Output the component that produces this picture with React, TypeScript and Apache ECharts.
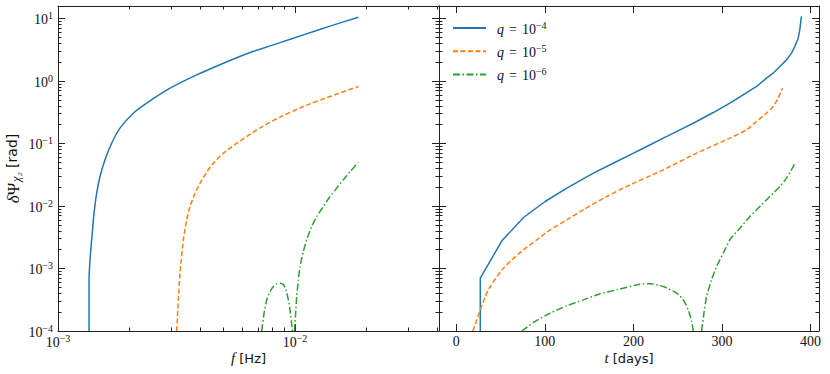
import React, { useEffect, useRef } from 'react';
import * as echarts from 'echarts';

// ---------- tick values ----------
const leftXMajor = [0.001, 0.01];
const leftXMinor = [0.002, 0.003, 0.004, 0.005, 0.006, 0.007, 0.008, 0.009, 0.02, 0.03, 0.04];
const yMajor = [1e-4, 1e-3, 1e-2, 1e-1, 1, 10];
const yMinor = [
  2e-4, 3e-4, 4e-4, 5e-4, 6e-4, 7e-4, 8e-4, 9e-4,
  2e-3, 3e-3, 4e-3, 5e-3, 6e-3, 7e-3, 8e-3, 9e-3,
  2e-2, 3e-2, 4e-2, 5e-2, 6e-2, 7e-2, 8e-2, 9e-2,
  0.2, 0.3, 0.4, 0.5, 0.6, 0.7, 0.8, 0.9,
  2, 3, 4, 5, 6, 7, 8, 9,
];
const rightXMajor = [0, 100, 200, 300, 400];

// ---------- left panel (frequency) ----------
const fBlueL = [1.352e-3, 1.352e-3, 1.365e-3, 1.387e-3, 1.419e-3, 1.456e-3, 1.504e-3, 1.579e-3, 1.684e-3, 1.826e-3, 2.078e-3, 2.367e-3, 2.97e-3, 3.847e-3, 5.317e-3, 6.46e-3, 7.116e-3, 8.65e-3, 1.084e-2, 1.405e-2, 1.849e-2];
const psiBlueL = [1e-4, 6.59e-4, 1.38e-3, 2.88e-3, 7.67e-3, 0.016, 0.0296, 0.0548, 0.101, 0.176, 0.305, 0.442, 0.767, 1.256, 2.13, 2.86, 3.23, 4.11, 5.47, 7.55, 10.5];

const fOrangeL = [3.168e-3, 3.219e-3, 3.272e-3, 3.379e-3, 3.491e-3, 3.606e-3, 3.786e-3, 3.975e-3, 4.241e-3, 4.524e-3, 4.985e-3, 5.675e-3, 6.253e-3, 7.116e-3, 8.65e-3, 1.084e-2, 1.405e-2, 1.85e-2];
const psiOrangeL = [1e-4, 3.15e-4, 8.4e-4, 2.88e-3, 6.0e-3, 9.8e-3, 0.016, 0.0232, 0.0348, 0.0484, 0.07, 0.101, 0.129, 0.178, 0.265, 0.391, 0.565, 0.817];

const fGreenL = [7.237e-3, 7.403e-3, 7.597e-3, 7.846e-3, 8.104e-3, 8.37e-3, 8.645e-3, 8.93e-3, 9.164e-3, 9.373e-3, 9.527e-3, 9.65e-3, 9.744e-3, 9.84e-3, 9.935e-3, 1.0065e-2, 1.0163e-2, 1.033e-2, 1.0499e-2, 1.0843e-2, 1.12e-2, 1.176e-2, 1.235e-2, 1.317e-2, 1.405e-2, 1.499e-2, 1.599e-2, 1.707e-2, 1.85e-2];
const psiGreenL = [1e-4, 1.93e-4, 3.15e-4, 4.28e-4, 5.15e-4, 5.69e-4, 5.82e-4, 5.48e-4, 4.56e-4, 3.15e-4, 2.18e-4, 1.42e-4, 1e-4, null, 1e-4, 1.93e-4, 3.56e-4, 6.59e-4, 1.08e-3, 1.87e-3, 2.88e-3, 4.7e-3, 6.79e-3, 9.82e-3, 1.42e-2, 1.93e-2, 2.62e-2, 3.56e-2, 4.97e-2];

// ---------- right panel (time) ----------
const tBlueR = [27.1, 27.1, 51.5, 75.9, 100.3, 124.8, 154.8, 181.1, 196.2, 215.0, 233.7, 252.5, 271.3, 290.1, 308.9, 323.9, 339.0, 350.2, 357.8, 365.3, 372.8, 378.4, 382.2, 386.0, 387.8, 389.7];
const psiBlueR = [1e-4, 7.0e-4, 2.77e-3, 6.55e-3, 0.0118, 0.0193, 0.0335, 0.0515, 0.0659, 0.0895, 0.1216, 0.1655, 0.225, 0.313, 0.442, 0.601, 0.817, 1.11, 1.334, 1.706, 2.18, 2.79, 3.56, 4.84, 6.59, 10.8];

const tOrangeR = [18.8, 23.3, 27.1, 32.7, 38.3, 51.5, 62.8, 75.9, 90.9, 106.0, 124.8, 143.5, 169.9, 196.2, 233.7, 271.3, 308.9, 327.7, 339.0, 350.2, 357.8, 363.4, 368.3];
const psiOrangeR = [1e-4, 1.51e-4, 2.18e-4, 3.56e-4, 5.15e-4, 9.5e-4, 1.38e-3, 1.99e-3, 2.88e-3, 4.16e-3, 6.0e-3, 8.7e-3, 0.0142, 0.0218, 0.0379, 0.07, 0.1216, 0.1655, 0.225, 0.305, 0.391, 0.531, 0.767];

const tGreenR = [74.0, 87.2, 106.0, 124.8, 143.5, 162.3, 181.1, 207.4, 218.7, 233.7, 248.8, 256.3, 261.9, 265.7, 267.5, 272.0, 277.0, 279.6, 282.6, 288.2, 293.9, 301.4, 308.9, 320.2, 331.5, 342.7, 354.0, 365.3, 372.8, 383.0];
const psiGreenR = [1e-4, 1.37e-4, 1.93e-4, 2.53e-4, 3.15e-4, 3.94e-4, 4.56e-4, 5.61e-4, 5.69e-4, 5.15e-4, 4.03e-4, 3.15e-4, 2.18e-4, 1.42e-4, 1e-4, null, 1e-4, 1.93e-4, 3.56e-4, 6.59e-4, 1.08e-3, 1.76e-3, 2.88e-3, 4.42e-3, 6.79e-3, 9.82e-3, 1.42e-2, 2.05e-2, 2.79e-2, 4.97e-2];

const seriesNames = ['q = 10^-4', 'q = 10^-5', 'q = 10^-6'];
const seriesExp = ['\u22124', '\u22125', '\u22126'];
const colors = ['#1f77b4', '#ff7f0e', '#2ca02c'];

const SERIF = '"Liberation Serif", "Times New Roman", serif';
const SANS = '"DejaVu Sans", Verdana, sans-serif';
const AX = '#222';
const TXT = '#111';

const pairs = (xs: number[], ys: (number | null)[]) => xs.map((x, i) => [x, ys[i]]);

const tickRich = {
  b: { fontFamily: SERIF, fontSize: 14, lineHeight: 16, verticalAlign: 'bottom', color: TXT },
  s: { fontFamily: SERIF, fontSize: 10, lineHeight: 8, verticalAlign: 'top', color: TXT },
};
const powLabel = (v: number) => {
  const e = Math.round(Math.log10(v));
  return `{b|10}{s|${e < 0 ? '\u2212' : ''}${Math.abs(e)}}`;
};

const lineSt = { color: AX, width: 1 };

function axis(o: any) {
  const { type, gridIndex, position, min, max, ticks, len, line, labels, extra } = o;
  return {
    type,
    gridIndex,
    position,
    min,
    max,
    ...(type === 'log' ? { logBase: 10 } : {}),
    axisLine: { show: !!line, onZero: false, lineStyle: lineSt },
    axisTick: { show: true, inside: true, length: len, customValues: ticks, lineStyle: lineSt },
    axisLabel: labels ? labels : { show: false },
    splitLine: { show: false },
    minorTick: { show: false },
    ...(extra || {}),
  };
}

export default function App() {
  const ref = useRef<HTMLDivElement>(null);
  useEffect(() => {
    if (!ref.current) return;
    const chart = echarts.init(ref.current, undefined, { renderer: 'svg' });

    const LXMIN = 0.001, LXMAX = 0.0405;
    const YMIN = 1e-4, YMAX = 15.85;
    const RXMIN = -19.5, RXMAX = 409.5;

    const nameRich = {
      i: { fontFamily: SERIF, fontStyle: 'italic', fontSize: 15, lineHeight: 16, color: TXT },
      n: { fontFamily: SANS, fontSize: 13, lineHeight: 16, color: TXT },
    };

    const xAxes = [
      axis({
        type: 'log', gridIndex: 0, position: 'bottom', min: LXMIN, max: LXMAX, ticks: leftXMajor, len: 7, line: true,
        labels: { show: true, customValues: leftXMajor, formatter: powLabel, margin: 2, rich: tickRich },
        extra: {
          name: '{i|f}{n| [Hz]}', nameLocation: 'middle', nameGap: 19, nameMoveOverlap: false,
          nameTextStyle: { rich: nameRich },
        },
      }),
      axis({ type: 'log', gridIndex: 0, position: 'bottom', min: LXMIN, max: LXMAX, ticks: leftXMinor, len: 3.5 }),
      axis({ type: 'log', gridIndex: 0, position: 'top', min: LXMIN, max: LXMAX, ticks: leftXMajor, len: 7, line: true }),
      axis({ type: 'log', gridIndex: 0, position: 'top', min: LXMIN, max: LXMAX, ticks: leftXMinor, len: 3.5 }),
      axis({
        type: 'value', gridIndex: 1, position: 'bottom', min: RXMIN, max: RXMAX, ticks: rightXMajor, len: 7, line: true,
        labels: { show: true, customValues: rightXMajor, margin: 3, fontFamily: SERIF, fontSize: 14, color: TXT },
        extra: {
          name: '{i|t}{n| [days]}', nameLocation: 'middle', nameGap: 19, nameMoveOverlap: false,
          nameTextStyle: { rich: nameRich },
        },
      }),
      axis({ type: 'value', gridIndex: 1, position: 'top', min: RXMIN, max: RXMAX, ticks: rightXMajor, len: 7, line: true }),
    ];

    const yAxes = [
      axis({
        type: 'log', gridIndex: 0, position: 'left', min: YMIN, max: YMAX, ticks: yMajor, len: 7, line: true,
        labels: { show: true, customValues: yMajor, formatter: powLabel, margin: 5, rich: tickRich },
        extra: {
          name: '{d|\u03b4}{p|\u03a8}{c|\u03c7\u2082}{n| [rad]}', nameLocation: 'middle', nameGap: 36, nameRotate: 90,
          nameMoveOverlap: false,
          nameTextStyle: {
            rich: {
              d: { fontFamily: SERIF, fontStyle: 'italic', fontSize: 17, lineHeight: 17, verticalAlign: 'top', color: TXT },
              p: { fontFamily: SERIF, fontSize: 17, lineHeight: 17, verticalAlign: 'top', color: TXT, padding: [0, 1, 0, 0] },
              c: { fontFamily: SERIF, fontStyle: 'italic', fontSize: 12, lineHeight: 6, verticalAlign: 'bottom', color: TXT },
              n: { fontFamily: SANS, fontSize: 14, lineHeight: 17, verticalAlign: 'top', color: TXT },
            },
          },
        },
      }),
      axis({ type: 'log', gridIndex: 0, position: 'left', min: YMIN, max: YMAX, ticks: yMinor, len: 3.5 }),
      axis({ type: 'log', gridIndex: 0, position: 'right', min: YMIN, max: YMAX, ticks: yMajor, len: 7, line: true }),
      axis({ type: 'log', gridIndex: 0, position: 'right', min: YMIN, max: YMAX, ticks: yMinor, len: 3.5 }),
      axis({ type: 'log', gridIndex: 1, position: 'left', min: YMIN, max: YMAX, ticks: yMajor, len: 7, line: true }),
      axis({ type: 'log', gridIndex: 1, position: 'left', min: YMIN, max: YMAX, ticks: yMinor, len: 3.5 }),
      axis({ type: 'log', gridIndex: 1, position: 'right', min: YMIN, max: YMAX, ticks: yMajor, len: 7, line: true }),
      axis({ type: 'log', gridIndex: 1, position: 'right', min: YMIN, max: YMAX, ticks: yMinor, len: 3.5 }),
    ];

    const dashTypes: any[] = ['solid', [5, 2.5], [7, 2.5, 1.5, 2.5]];
    const leftData = [pairs(fBlueL, psiBlueL), pairs(fOrangeL, psiOrangeL), pairs(fGreenL, psiGreenL)];
    const rightData = [pairs(tBlueR, psiBlueR), pairs(tOrangeR, psiOrangeR), pairs(tGreenR, psiGreenR)];
    const rightSmooth = [0, 0.2, 0.2];

    const series: any[] = [];
    for (let k = 0; k < 3; k++) {
      series.push({
        type: 'line', name: seriesNames[k], xAxisIndex: 0, yAxisIndex: 0, data: leftData[k],
        symbol: 'none', showSymbol: false, connectNulls: false, clip: true,
        smooth: 0.2,
        lineStyle: { color: colors[k], width: 1.5, type: dashTypes[k] },
        itemStyle: { color: colors[k] },
      });
      series.push({
        type: 'line', name: seriesNames[k], xAxisIndex: 4, yAxisIndex: 4, data: rightData[k],
        symbol: 'none', showSymbol: false, connectNulls: false, clip: true,
        smooth: rightSmooth[k],
        lineStyle: { color: colors[k], width: 1.5, type: dashTypes[k] },
        itemStyle: { color: colors[k] },
      });
    }

    const legendRich = {
      q: { fontFamily: SERIF, fontStyle: 'italic', fontSize: 14, lineHeight: 16, verticalAlign: 'bottom', padding: [0, 0, 0, 6], color: TXT },
      eq: { fontFamily: SERIF, fontSize: 14, lineHeight: 16, verticalAlign: 'bottom', padding: [0, 5, 0, 5], color: TXT },
      b: { fontFamily: SERIF, fontSize: 14, lineHeight: 16, verticalAlign: 'bottom', color: TXT },
      s: { fontFamily: SERIF, fontSize: 10, lineHeight: 8, verticalAlign: 'top', color: TXT },
    };

    chart.setOption({
      animation: false,
      backgroundColor: '#ffffff',
      grid: [
        { left: 58, top: 6, width: 381, height: 325, outerBoundsMode: 'none', containLabel: false },
        { left: 439, top: 6, width: 380, height: 325, outerBoundsMode: 'none', containLabel: false },
      ],
      xAxis: xAxes,
      yAxis: yAxes,
      legend: {
        show: true,
        orient: 'vertical',
        left: 452,
        top: 20,
        padding: 0,
        itemGap: 7.3,
        itemWidth: 33,
        itemHeight: 14,
        selectedMode: false,
        data: seriesNames,
        itemStyle: { opacity: 0, borderWidth: 0 },
        formatter: (name: string) => {
          const i = seriesNames.indexOf(name);
          return `{q|q}{eq|=}{b|10}{s|${seriesExp[i]}}`;
        },
        textStyle: { rich: legendRich },
      },
      series,
    });

    return () => chart.dispose();
  }, []);

  return (
    <div
      ref={ref}
      style={{ position: 'absolute', left: 0, top: 0, width: 830, height: 374, background: '#fff' }}
    />
  );
}
